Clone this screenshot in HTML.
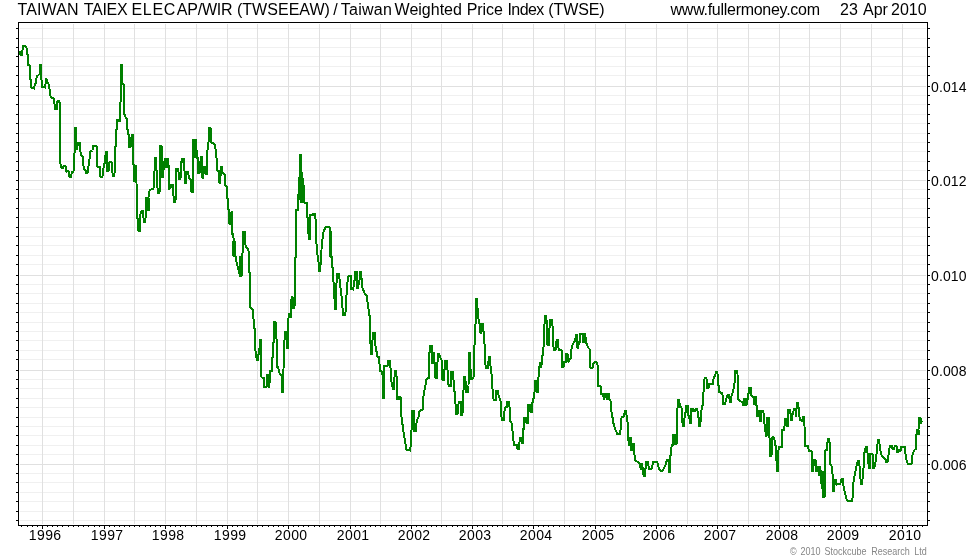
<!DOCTYPE html>
<html><head><meta charset="utf-8"><title>TWSEEAW / TWSE</title>
<style>
html,body{margin:0;padding:0;background:#fff;}
body{width:980px;height:560px;position:relative;overflow:hidden;font-family:"Liberation Sans",sans-serif;color:#000;}
.t{position:absolute;white-space:nowrap;line-height:1;}
.title{font-size:16px;top:2px;}
.yl{font-size:14px;left:931px;letter-spacing:0.1px;}
.xl{font-size:14px;top:528px;width:60px;text-align:center;letter-spacing:0.4px;}
.cp{font-size:9px;color:#868686;top:546.5px;transform:scaleY(1.12);transform-origin:0 0;}
svg{position:absolute;left:0;top:0;}
</style></head>
<body>
<svg width="980" height="560" viewBox="0 0 980 560" shape-rendering="crispEdges">
<g fill="#f0f0f0"><rect x="20" y="28" width="906" height="1"/><rect x="20" y="38" width="906" height="1"/><rect x="20" y="47" width="906" height="1"/><rect x="20" y="56" width="906" height="1"/><rect x="20" y="66" width="906" height="1"/><rect x="20" y="75" width="906" height="1"/><rect x="20" y="95" width="906" height="1"/><rect x="20" y="104" width="906" height="1"/><rect x="20" y="114" width="906" height="1"/><rect x="20" y="123" width="906" height="1"/><rect x="20" y="133" width="906" height="1"/><rect x="20" y="142" width="906" height="1"/><rect x="20" y="151" width="906" height="1"/><rect x="20" y="161" width="906" height="1"/><rect x="20" y="170" width="906" height="1"/><rect x="20" y="189" width="906" height="1"/><rect x="20" y="198" width="906" height="1"/><rect x="20" y="208" width="906" height="1"/><rect x="20" y="217" width="906" height="1"/><rect x="20" y="227" width="906" height="1"/><rect x="20" y="236" width="906" height="1"/><rect x="20" y="245" width="906" height="1"/><rect x="20" y="255" width="906" height="1"/><rect x="20" y="264" width="906" height="1"/><rect x="20" y="284" width="906" height="1"/><rect x="20" y="293" width="906" height="1"/><rect x="20" y="303" width="906" height="1"/><rect x="20" y="312" width="906" height="1"/><rect x="20" y="322" width="906" height="1"/><rect x="20" y="331" width="906" height="1"/><rect x="20" y="340" width="906" height="1"/><rect x="20" y="350" width="906" height="1"/><rect x="20" y="359" width="906" height="1"/><rect x="20" y="379" width="906" height="1"/><rect x="20" y="388" width="906" height="1"/><rect x="20" y="398" width="906" height="1"/><rect x="20" y="407" width="906" height="1"/><rect x="20" y="417" width="906" height="1"/><rect x="20" y="426" width="906" height="1"/><rect x="20" y="435" width="906" height="1"/><rect x="20" y="445" width="906" height="1"/><rect x="20" y="454" width="906" height="1"/><rect x="20" y="473" width="906" height="1"/><rect x="20" y="482" width="906" height="1"/><rect x="20" y="492" width="906" height="1"/><rect x="20" y="501" width="906" height="1"/><rect x="20" y="511" width="906" height="1"/><rect x="20" y="520" width="906" height="1"/></g>
<g fill="#e0e0e0"><rect x="20" y="86" width="906" height="1"/><rect x="20" y="180" width="906" height="1"/><rect x="20" y="275" width="906" height="1"/><rect x="20" y="370" width="906" height="1"/><rect x="20" y="464" width="906" height="1"/><rect x="42" y="24" width="1" height="500"/><rect x="73" y="24" width="1" height="500"/><rect x="104" y="24" width="1" height="500"/><rect x="134" y="24" width="1" height="500"/><rect x="165" y="24" width="1" height="500"/><rect x="196" y="24" width="1" height="500"/><rect x="227" y="24" width="1" height="500"/><rect x="257" y="24" width="1" height="500"/><rect x="288" y="24" width="1" height="500"/><rect x="319" y="24" width="1" height="500"/><rect x="350" y="24" width="1" height="500"/><rect x="380" y="24" width="1" height="500"/><rect x="411" y="24" width="1" height="500"/><rect x="441" y="24" width="1" height="500"/><rect x="472" y="24" width="1" height="500"/><rect x="502" y="24" width="1" height="500"/><rect x="533" y="24" width="1" height="500"/><rect x="564" y="24" width="1" height="500"/><rect x="595" y="24" width="1" height="500"/><rect x="625" y="24" width="1" height="500"/><rect x="656" y="24" width="1" height="500"/><rect x="687" y="24" width="1" height="500"/><rect x="717" y="24" width="1" height="500"/><rect x="748" y="24" width="1" height="500"/><rect x="779" y="24" width="1" height="500"/><rect x="809" y="24" width="1" height="500"/><rect x="840" y="24" width="1" height="500"/><rect x="871" y="24" width="1" height="500"/><rect x="902" y="24" width="1" height="500"/></g>
<g fill="#000"><rect x="18" y="22" width="910" height="1"/><rect x="18" y="525" width="910" height="1"/><rect x="18" y="22" width="1" height="504"/><rect x="927" y="22" width="1" height="504"/>
<rect x="16" y="28" width="2" height="1"/><rect x="928" y="28" width="2" height="1"/><rect x="16" y="38" width="2" height="1"/><rect x="928" y="38" width="2" height="1"/><rect x="16" y="47" width="2" height="1"/><rect x="928" y="47" width="2" height="1"/><rect x="16" y="56" width="2" height="1"/><rect x="928" y="56" width="2" height="1"/><rect x="16" y="66" width="2" height="1"/><rect x="928" y="66" width="2" height="1"/><rect x="16" y="75" width="2" height="1"/><rect x="928" y="75" width="2" height="1"/><rect x="16" y="86" width="2" height="1"/><rect x="928" y="86" width="2" height="1"/><rect x="16" y="95" width="2" height="1"/><rect x="928" y="95" width="2" height="1"/><rect x="16" y="104" width="2" height="1"/><rect x="928" y="104" width="2" height="1"/><rect x="16" y="114" width="2" height="1"/><rect x="928" y="114" width="2" height="1"/><rect x="16" y="123" width="2" height="1"/><rect x="928" y="123" width="2" height="1"/><rect x="16" y="133" width="2" height="1"/><rect x="928" y="133" width="2" height="1"/><rect x="16" y="142" width="2" height="1"/><rect x="928" y="142" width="2" height="1"/><rect x="16" y="151" width="2" height="1"/><rect x="928" y="151" width="2" height="1"/><rect x="16" y="161" width="2" height="1"/><rect x="928" y="161" width="2" height="1"/><rect x="16" y="170" width="2" height="1"/><rect x="928" y="170" width="2" height="1"/><rect x="16" y="180" width="2" height="1"/><rect x="928" y="180" width="2" height="1"/><rect x="16" y="189" width="2" height="1"/><rect x="928" y="189" width="2" height="1"/><rect x="16" y="198" width="2" height="1"/><rect x="928" y="198" width="2" height="1"/><rect x="16" y="208" width="2" height="1"/><rect x="928" y="208" width="2" height="1"/><rect x="16" y="217" width="2" height="1"/><rect x="928" y="217" width="2" height="1"/><rect x="16" y="227" width="2" height="1"/><rect x="928" y="227" width="2" height="1"/><rect x="16" y="236" width="2" height="1"/><rect x="928" y="236" width="2" height="1"/><rect x="16" y="245" width="2" height="1"/><rect x="928" y="245" width="2" height="1"/><rect x="16" y="255" width="2" height="1"/><rect x="928" y="255" width="2" height="1"/><rect x="16" y="264" width="2" height="1"/><rect x="928" y="264" width="2" height="1"/><rect x="16" y="275" width="2" height="1"/><rect x="928" y="275" width="2" height="1"/><rect x="16" y="284" width="2" height="1"/><rect x="928" y="284" width="2" height="1"/><rect x="16" y="293" width="2" height="1"/><rect x="928" y="293" width="2" height="1"/><rect x="16" y="303" width="2" height="1"/><rect x="928" y="303" width="2" height="1"/><rect x="16" y="312" width="2" height="1"/><rect x="928" y="312" width="2" height="1"/><rect x="16" y="322" width="2" height="1"/><rect x="928" y="322" width="2" height="1"/><rect x="16" y="331" width="2" height="1"/><rect x="928" y="331" width="2" height="1"/><rect x="16" y="340" width="2" height="1"/><rect x="928" y="340" width="2" height="1"/><rect x="16" y="350" width="2" height="1"/><rect x="928" y="350" width="2" height="1"/><rect x="16" y="359" width="2" height="1"/><rect x="928" y="359" width="2" height="1"/><rect x="16" y="370" width="2" height="1"/><rect x="928" y="370" width="2" height="1"/><rect x="16" y="379" width="2" height="1"/><rect x="928" y="379" width="2" height="1"/><rect x="16" y="388" width="2" height="1"/><rect x="928" y="388" width="2" height="1"/><rect x="16" y="398" width="2" height="1"/><rect x="928" y="398" width="2" height="1"/><rect x="16" y="407" width="2" height="1"/><rect x="928" y="407" width="2" height="1"/><rect x="16" y="417" width="2" height="1"/><rect x="928" y="417" width="2" height="1"/><rect x="16" y="426" width="2" height="1"/><rect x="928" y="426" width="2" height="1"/><rect x="16" y="435" width="2" height="1"/><rect x="928" y="435" width="2" height="1"/><rect x="16" y="445" width="2" height="1"/><rect x="928" y="445" width="2" height="1"/><rect x="16" y="454" width="2" height="1"/><rect x="928" y="454" width="2" height="1"/><rect x="16" y="464" width="2" height="1"/><rect x="928" y="464" width="2" height="1"/><rect x="16" y="473" width="2" height="1"/><rect x="928" y="473" width="2" height="1"/><rect x="16" y="482" width="2" height="1"/><rect x="928" y="482" width="2" height="1"/><rect x="16" y="492" width="2" height="1"/><rect x="928" y="492" width="2" height="1"/><rect x="16" y="501" width="2" height="1"/><rect x="928" y="501" width="2" height="1"/><rect x="16" y="511" width="2" height="1"/><rect x="928" y="511" width="2" height="1"/><rect x="16" y="520" width="2" height="1"/><rect x="928" y="520" width="2" height="1"/>
<rect x="21" y="526" width="1" height="1"/><rect x="27" y="526" width="1" height="1"/><rect x="32" y="526" width="1" height="1"/><rect x="37" y="526" width="1" height="1"/><rect x="42" y="526" width="1" height="3"/><rect x="47" y="526" width="1" height="1"/><rect x="52" y="526" width="1" height="1"/><rect x="57" y="526" width="1" height="1"/><rect x="62" y="526" width="1" height="1"/><rect x="68" y="526" width="1" height="1"/><rect x="73" y="526" width="1" height="1"/><rect x="78" y="526" width="1" height="1"/><rect x="83" y="526" width="1" height="1"/><rect x="88" y="526" width="1" height="1"/><rect x="94" y="526" width="1" height="1"/><rect x="99" y="526" width="1" height="1"/><rect x="104" y="526" width="1" height="3"/><rect x="109" y="526" width="1" height="1"/><rect x="114" y="526" width="1" height="1"/><rect x="119" y="526" width="1" height="1"/><rect x="124" y="526" width="1" height="1"/><rect x="129" y="526" width="1" height="1"/><rect x="134" y="526" width="1" height="1"/><rect x="139" y="526" width="1" height="1"/><rect x="145" y="526" width="1" height="1"/><rect x="150" y="526" width="1" height="1"/><rect x="155" y="526" width="1" height="1"/><rect x="160" y="526" width="1" height="1"/><rect x="165" y="526" width="1" height="3"/><rect x="170" y="526" width="1" height="1"/><rect x="175" y="526" width="1" height="1"/><rect x="180" y="526" width="1" height="1"/><rect x="185" y="526" width="1" height="1"/><rect x="191" y="526" width="1" height="1"/><rect x="196" y="526" width="1" height="1"/><rect x="201" y="526" width="1" height="1"/><rect x="206" y="526" width="1" height="1"/><rect x="211" y="526" width="1" height="1"/><rect x="217" y="526" width="1" height="1"/><rect x="222" y="526" width="1" height="1"/><rect x="227" y="526" width="1" height="3"/><rect x="232" y="526" width="1" height="1"/><rect x="237" y="526" width="1" height="1"/><rect x="242" y="526" width="1" height="1"/><rect x="247" y="526" width="1" height="1"/><rect x="252" y="526" width="1" height="1"/><rect x="257" y="526" width="1" height="1"/><rect x="262" y="526" width="1" height="1"/><rect x="268" y="526" width="1" height="1"/><rect x="273" y="526" width="1" height="1"/><rect x="278" y="526" width="1" height="1"/><rect x="283" y="526" width="1" height="1"/><rect x="288" y="526" width="1" height="3"/><rect x="293" y="526" width="1" height="1"/><rect x="298" y="526" width="1" height="1"/><rect x="303" y="526" width="1" height="1"/><rect x="308" y="526" width="1" height="1"/><rect x="314" y="526" width="1" height="1"/><rect x="319" y="526" width="1" height="1"/><rect x="324" y="526" width="1" height="1"/><rect x="329" y="526" width="1" height="1"/><rect x="334" y="526" width="1" height="1"/><rect x="340" y="526" width="1" height="1"/><rect x="345" y="526" width="1" height="1"/><rect x="350" y="526" width="1" height="3"/><rect x="355" y="526" width="1" height="1"/><rect x="360" y="526" width="1" height="1"/><rect x="365" y="526" width="1" height="1"/><rect x="370" y="526" width="1" height="1"/><rect x="375" y="526" width="1" height="1"/><rect x="380" y="526" width="1" height="1"/><rect x="385" y="526" width="1" height="1"/><rect x="391" y="526" width="1" height="1"/><rect x="396" y="526" width="1" height="1"/><rect x="401" y="526" width="1" height="1"/><rect x="406" y="526" width="1" height="1"/><rect x="411" y="526" width="1" height="3"/><rect x="416" y="526" width="1" height="1"/><rect x="421" y="526" width="1" height="1"/><rect x="426" y="526" width="1" height="1"/><rect x="431" y="526" width="1" height="1"/><rect x="436" y="526" width="1" height="1"/><rect x="441" y="526" width="1" height="1"/><rect x="446" y="526" width="1" height="1"/><rect x="452" y="526" width="1" height="1"/><rect x="457" y="526" width="1" height="1"/><rect x="462" y="526" width="1" height="1"/><rect x="467" y="526" width="1" height="1"/><rect x="472" y="526" width="1" height="3"/><rect x="477" y="526" width="1" height="1"/><rect x="482" y="526" width="1" height="1"/><rect x="487" y="526" width="1" height="1"/><rect x="492" y="526" width="1" height="1"/><rect x="497" y="526" width="1" height="1"/><rect x="502" y="526" width="1" height="1"/><rect x="507" y="526" width="1" height="1"/><rect x="513" y="526" width="1" height="1"/><rect x="518" y="526" width="1" height="1"/><rect x="523" y="526" width="1" height="1"/><rect x="528" y="526" width="1" height="1"/><rect x="533" y="526" width="1" height="3"/><rect x="538" y="526" width="1" height="1"/><rect x="543" y="526" width="1" height="1"/><rect x="548" y="526" width="1" height="1"/><rect x="553" y="526" width="1" height="1"/><rect x="559" y="526" width="1" height="1"/><rect x="564" y="526" width="1" height="1"/><rect x="569" y="526" width="1" height="1"/><rect x="574" y="526" width="1" height="1"/><rect x="579" y="526" width="1" height="1"/><rect x="585" y="526" width="1" height="1"/><rect x="590" y="526" width="1" height="1"/><rect x="595" y="526" width="1" height="3"/><rect x="600" y="526" width="1" height="1"/><rect x="605" y="526" width="1" height="1"/><rect x="610" y="526" width="1" height="1"/><rect x="615" y="526" width="1" height="1"/><rect x="620" y="526" width="1" height="1"/><rect x="625" y="526" width="1" height="1"/><rect x="630" y="526" width="1" height="1"/><rect x="636" y="526" width="1" height="1"/><rect x="641" y="526" width="1" height="1"/><rect x="646" y="526" width="1" height="1"/><rect x="651" y="526" width="1" height="1"/><rect x="656" y="526" width="1" height="3"/><rect x="661" y="526" width="1" height="1"/><rect x="666" y="526" width="1" height="1"/><rect x="671" y="526" width="1" height="1"/><rect x="676" y="526" width="1" height="1"/><rect x="681" y="526" width="1" height="1"/><rect x="686" y="526" width="1" height="1"/><rect x="691" y="526" width="1" height="1"/><rect x="697" y="526" width="1" height="1"/><rect x="702" y="526" width="1" height="1"/><rect x="707" y="526" width="1" height="1"/><rect x="712" y="526" width="1" height="1"/><rect x="717" y="526" width="1" height="3"/><rect x="722" y="526" width="1" height="1"/><rect x="727" y="526" width="1" height="1"/><rect x="732" y="526" width="1" height="1"/><rect x="737" y="526" width="1" height="1"/><rect x="743" y="526" width="1" height="1"/><rect x="748" y="526" width="1" height="1"/><rect x="753" y="526" width="1" height="1"/><rect x="758" y="526" width="1" height="1"/><rect x="763" y="526" width="1" height="1"/><rect x="769" y="526" width="1" height="1"/><rect x="774" y="526" width="1" height="1"/><rect x="779" y="526" width="1" height="3"/><rect x="784" y="526" width="1" height="1"/><rect x="789" y="526" width="1" height="1"/><rect x="794" y="526" width="1" height="1"/><rect x="799" y="526" width="1" height="1"/><rect x="804" y="526" width="1" height="1"/><rect x="809" y="526" width="1" height="1"/><rect x="814" y="526" width="1" height="1"/><rect x="820" y="526" width="1" height="1"/><rect x="825" y="526" width="1" height="1"/><rect x="830" y="526" width="1" height="1"/><rect x="835" y="526" width="1" height="1"/><rect x="840" y="526" width="1" height="3"/><rect x="845" y="526" width="1" height="1"/><rect x="850" y="526" width="1" height="1"/><rect x="855" y="526" width="1" height="1"/><rect x="860" y="526" width="1" height="1"/><rect x="866" y="526" width="1" height="1"/><rect x="871" y="526" width="1" height="1"/><rect x="876" y="526" width="1" height="1"/><rect x="881" y="526" width="1" height="1"/><rect x="886" y="526" width="1" height="1"/><rect x="892" y="526" width="1" height="1"/><rect x="897" y="526" width="1" height="1"/><rect x="902" y="526" width="1" height="3"/><rect x="907" y="526" width="1" height="1"/><rect x="912" y="526" width="1" height="1"/><rect x="917" y="526" width="1" height="1"/><rect x="922" y="526" width="1" height="1"/></g>
<g fill="#008000"><rect x="132.8" y="164.5" width="4" height="17.5"/><rect x="146" y="197.5" width="3.5" height="13"/><rect x="165.4" y="158.5" width="3.6" height="9.5"/><rect x="162.9" y="162" width="2.5" height="8"/><rect x="192.6" y="139.5" width="4.4" height="18.5"/><rect x="195.7" y="149.5" width="2.6" height="9"/><rect x="232.1" y="241.4" width="3.6" height="15"/><rect x="239.3" y="256" width="4" height="20"/><rect x="328.6" y="231" width="3.5" height="25.5"/><rect x="298.6" y="178" width="4.9" height="22"/><rect x="300" y="188" width="4.6" height="14.5"/><rect x="672.6" y="434.5" width="4.5" height="10"/><rect x="752.6" y="396" width="4.3" height="9"/><rect x="818" y="467" width="3" height="9"/><rect x="820" y="471" width="3.5" height="13"/><rect x="822" y="480" width="3" height="17"/><rect x="916.4" y="429.5" width="3.4" height="5"/></g>
<polyline fill="none" stroke="#008000" stroke-width="2" stroke-linejoin="miter" stroke-miterlimit="1.5" points="19,51.5 20,51.5 20.5,55 22,55 22.5,50 23,46 25.5,46 26.5,47.5 27,54.5 28.3,55 28.5,65 29.6,65.5 29.8,79 31,80 31.5,88 34,88.5 35,84 36,83.5 36.7,76.5 38.5,75 39.5,74 40.5,64.5 41,64.5 41.5,80 42,87 45,87.5 45.8,82 46.3,78.5 47.5,82 48.5,84 49.3,87 50,95 51.5,97.5 53.5,98.5 54.5,104 55,109 57,109 57.5,101 59,101 60,104 60.3,163 61,167 62.5,168.5 63.5,166 65.5,166 66.2,172 67.5,171 68.5,171 69.5,176.5 71,176.5 72,172 73.5,172 74,158.5 74.8,150 75.3,127.5 76,127.5 76.5,150 77.5,146 78,142.5 80,142.5 80.7,155 83,157 83.7,169 85.5,170 86,173 87.5,173 88,168 89.3,162 90,151.5 92.5,150.5 93,146 94,145.5 96.5,145.5 97.2,166 98,167 100,167 100.5,176.5 102.5,176.5 103,169.5 104.3,165 105.3,158 105.8,152 106.8,152 107.3,171 108.5,171 109,163 110,162 111.5,162 112.3,170 112.8,176 114.3,176 114.7,170 115,146.5 115.8,146 116.2,129.5 116.8,129 117.2,119.5 118.5,119.5 119,121 120.2,121 120.6,97.5 121,64.5 122,64.5 122.5,83.5 123.5,84 124,104.5 124.5,114.5 126,118 127,118.5 127.3,129.5 128,130 128.5,135 129.2,135.5 129.5,147 130.5,147 131,140 131.8,135 133,135 133.3,164.5 134,165 134.5,181 136.5,182.5 137,218.5 138,219 138.5,231 140,231 140.5,214 141.5,211 143,211 143.8,222 145.3,222 146,210 146.5,197.5 148.5,197.5 149,192.5 150,190 153.5,188.5 154.2,182 154.9,158 155.9,158 157,180 157.8,193 159.5,193 160,178 160.3,145.5 161.5,145.5 162,168 162.5,178 163,162 164.5,162 165.2,158.5 168,158.5 168.5,164 169,189.5 170.5,188 171,185 173,185 173.8,201.5 175.5,201.5 176,175 176.5,168.5 178,168.5 178.5,172 179.5,179.5 180.5,179 181,161.5 182,161.5 182.5,158.5 184,158.5 184.5,171 185,182.5 185.8,182.5 186.3,171.5 188,171.5 189,178 190.5,179 191.5,191.5 192.8,191.5 193.2,140 194,139.5 196,139.5 196.5,149.5 197,158 197.8,158 198.2,173 199.5,173 200.2,166 200.8,156.5 202,156.5 202.5,177.5 203.3,177.5 204,166.5 205.5,166.5 206,173.5 207,173.5 207.5,150 208.3,149 208.8,132.5 209.3,127.5 210.5,127.5 211,142.5 213,143 214.5,144.5 215.4,146 215.8,157 216.5,158 217,170.5 219,171 219.5,182.5 220.3,182.5 220.8,166.5 222,166.5 222.5,173 225,174.5 225.5,185.5 226.5,186 227,198.5 227.8,199 228.3,209.5 229,210 229.5,223.5 231,223.5 231.5,212 232.2,212 232.5,234 233.3,234.5 233.7,241 234,256 235.5,256.5 236.5,262 238,268 239,272 240,276 241.5,276 242,256 243,250 243.5,231.5 245,231.5 245.6,247 247.5,248 249,252 249.4,272 250,272.5 250.3,307.5 253,309.5 254,328.5 255,329 255.3,350 256,354 256.8,360 257.8,360 258.5,354.5 259.3,354 259.8,339.5 260.8,339.5 261.2,376.5 262,377.5 263.7,378 264.2,387 266.5,387 267,374.5 268.3,374.5 268.8,387 269.3,387 269.8,377 270.5,370.5 271.8,370.5 272.2,357.5 273,357 273.3,342.5 274,342 274.3,321.5 275.5,321.5 276,332 276.8,342.5 277.2,367 278.3,367.5 278.8,371.5 280,374.5 281.5,375 282,391.5 283.2,391.5 283.5,369.5 284,344 284.8,338 285.5,331.5 286.5,331.5 287,347.5 288,347.5 288.5,318.5 289,313.5 290.5,313.5 291,318 291.3,300 291.8,297 292.5,296.5 293,307.5 294.5,307.5 295,258 296,257.5 296.3,210 297.8,210 298.2,194.5 298.8,194 299.2,177.5 299.8,177 300.2,154.5 301.2,154.5 301.6,177.5 302.5,178 303,202.5 304,185 304.5,202.5 307,202.5 307.4,217.5 308.2,218 308.6,238.5 310,238.5 310.5,214.5 313,214.5 313.5,213.5 315.3,213.5 315.8,225.5 316.3,241 317.3,253.5 318.5,262 319,270.5 320.2,270.5 320.8,259 322,243 323.5,232 325.5,227.5 327,227 329.5,227 330,231.5 330.5,256.5 331.5,256.5 332.2,267.5 333,268 333.4,282 334.2,283 334.7,308.5 336,308.5 336.5,283 337,274 339,274 340,283.5 341.5,295.5 342.5,308 343,315 345.3,315 346,305 346.7,291.5 348,277 349,275.5 350.8,275.5 351.2,289 352.8,289.5 353.5,287 354,281 354.8,280.5 355.3,271.5 356.9,271.5 357.4,287.5 358,287.5 360.1,277 360.1,271.5 361.3,271.5 361.8,286.5 363.5,290.5 364.5,293 366,295.5 367.2,296 367.6,303.5 368.3,304 368.8,315.5 370,316 370.4,342 371,354 372,354 372.5,340 373.2,332.5 375,332.5 375.7,350.5 376.5,351 377.5,357 378.8,357 379.3,361.5 380.3,371 381.5,371.5 382.5,374.5 383,398 384,398 384.5,365.5 387.5,366 388,360.5 390.3,360.5 390.8,378 391.8,383 393,389 394,389 394.8,370.5 396.3,370.5 396.8,383 397.2,399 399,399 399.5,396.5 400.5,397 401,412.5 402.3,423 403.7,433 405.2,442 406.6,450 410.3,450.5 410.8,441.5 411.8,425 412.5,410.5 414,410.5 414.5,431 416,431 416.7,420 418.5,417.5 419,412 420,410.5 422.5,410 423,402 423.8,393 425.5,385 426.5,379.5 427.5,378 428.8,378 429.2,353 430,352 430.4,345.5 431.7,345.5 432.2,362.5 433.5,362.5 434,352 434.6,364 435.5,378 436.8,378 437.9,353.5 438.9,353.5 440,357 441.8,360.5 442.5,379.5 444.2,379.5 444.8,360.5 447.3,360.5 447.8,383.5 449,385.5 451,385.5 451.5,371.5 453,371.5 453.5,380 454.3,386.5 454.7,396 455.5,404 456.3,414 457.5,414 458,405.5 459.3,401.5 460.8,401.5 461.3,415 462.3,415 462.8,410 464,376.5 465.2,376.5 466.2,391.5 468,391.5 468.5,385.5 469,352.5 470.2,352.5 470.7,379 472,379 473.6,377 474.2,348.5 475.2,338.5 476.1,298.5 476.9,298.5 477.4,306 478.3,318.5 479.5,323.5 480.5,332.5 481.5,332.5 482,323.5 483.2,323.5 483.7,336 484.6,344.5 485,361.5 486,368 488,368 488.8,356.5 490,356.5 490.5,366 491.6,374.5 492.3,385.5 493,396.5 493.8,400 496,400 496.5,390.5 498,390.5 498.6,396 500.5,400.5 501,411.5 501.8,420 504,420 504.4,411 505.5,407.5 507,407 507.5,401.5 509.3,401.5 509.7,411 510.3,421 511.5,422.5 512.3,428 512.7,434 513.6,441.5 514.4,445 517,445 517.5,448.5 519.2,448.5 519.7,437.5 521.5,437.5 522,442.5 523.3,442.5 523.7,417.5 526,417.5 526.5,422.5 527.8,422.5 528.3,405 530,405 530.5,412 532,412 532.6,401 534,397 534.6,391.5 535,381 536,381 536.5,391.5 538,391.5 538.6,375 539,370 540,362.5 541,367.5 542,362.5 542.3,357 543.3,350 544,339 544.8,315.5 546.3,315.5 546.8,325 547.5,345 549,345 549.6,325 550,319.5 552,319.5 552.6,327 553,340 553.7,350 555.5,350 556.2,345 556.6,339.5 558,339.5 558.6,349.5 560.5,350 562,350.5 562.3,367 563.5,367 564,361.5 565.7,361.5 566.3,353.5 567.5,353.5 568,362 569,361 570.8,358 571.3,350 572.6,345 574,342 575.3,341 575.8,334.5 577,334.5 577.5,348 578.3,348 578.8,341.5 580,341.5 580.5,333.5 582.5,333.5 583,342 584,342 584.5,333.5 585.3,333.5 585.8,341 587.1,345.5 588.6,348 589.5,349 589.9,365.5 590.5,367.5 592.5,367.5 593.2,364 594.5,362 596.5,362 597.2,364.5 598,366 598.3,385.5 600.5,385.5 601.2,394 603,394 604,399.5 605.5,393.5 607,399.5 608.5,393.5 609.5,399.5 610.4,399.5 610.8,405 611.5,412 612.6,418 613.6,424 615.6,430 617.3,434 620.3,434 620.8,424 621.7,417 624.2,416.5 624.7,410.5 626.2,410.5 626.7,417.5 627.5,422 628.2,437 628.8,444.5 630,444.5 630.5,437 631.2,449.5 632.5,449.5 633,443.5 633.8,443.5 634.5,455 635.6,461 637,461.5 639.5,463.5 641,469.5 642,463.5 642.8,469.5 643.6,476 645.2,476 645.8,462 648.2,462 648.7,468.5 651.5,468.5 652.2,466 653.2,462 657.4,462 658,466 659.3,469 660.2,470.5 662.8,470.5 663.7,468.5 665.4,465.5 666.4,461.5 667.4,459.5 668.5,459.5 669,472 670,472 670.6,452.5 672,444.5 673,444.5 673.5,434.5 676.5,434.5 676.8,444 677.2,418 677.8,399.5 679.3,399.5 679.8,407 681.5,407.5 682,417.5 682.8,426 684.2,426 684.7,413 685.8,412.5 686.2,405.5 687.8,405.5 688.3,415.5 689.3,416 689.8,423 691,423 691.3,408.5 692.8,408.5 693.4,411 695.2,411 695.7,408.5 697.4,408.5 697.8,417.5 698.6,418 699,426 700.3,426 700.8,417.5 701.3,411 702.3,405.5 703.3,405 703.7,381.5 704.9,377.5 705.9,377.5 706.8,379.5 707.3,388 708.5,388 709,383.5 713.2,383.5 713.7,377 715,376.5 715.9,371.5 716.9,371.5 717.9,375.5 718.3,382 718.9,392 722.3,393 722.8,398 723.3,404 725.3,404 725.8,400 726.9,397 727.6,394.5 729.2,394.5 729.7,401.5 730.8,401.5 731.3,397 732.5,393 733.6,389 734.3,388 734.8,377 735.3,370.5 737.3,370.5 737.8,380 738.2,399.5 740.5,401 742.5,402.5 743.3,405.5 744.5,398.5 745.5,405.5 746.5,398.5 747.3,405 747.8,393.5 748.8,393 749.2,387.5 751,387.5 751.5,396 752.5,396 754,398.5 755.5,402.5 756,405 757,405.5 757.5,416 758.5,416 759,410 759.8,420.5 761,420.5 761.4,410.5 763.4,410.5 763.8,420 764.6,424.5 765.2,430.5 766,435 766.5,437 767,417.5 769,417.5 769.5,437.5 770.2,455.5 771.5,455.5 772,437 774,437.5 774.6,440.5 775.2,445.5 776.2,446 776.7,470.5 778,470.5 778.6,446.5 781.6,446.5 782,430 784,430 784.5,426 785,418.5 786,418.5 786.5,425.5 788,425.5 788.5,409.5 790.3,409.5 790.8,420 792,420 792.5,413.5 793.3,413.5 793.8,408.5 795.5,408.5 796,416.5 797,402.5 798,402.5 799,412 799.8,420 802.3,421 802.8,416.5 804.3,416.5 804.7,435 805.4,446 808.2,446 808.7,451 811.5,451 812,460 812.4,470.5 813.3,470.5 813.8,460 815.5,460 816,471 817.2,471 817.7,467 820,467 820.5,470 821.3,482.5 822.3,482.5 822.8,497 824.5,497 825,482 825.4,450.5 826.6,450 827,445 828.4,438.5 829.4,438.5 830.3,464.5 831.3,465 832.3,469.5 832.8,480 833.2,491 834.2,491 834.8,479.5 836,479.5 836.5,484.5 839.5,484 840.5,483.5 841.6,478.5 842.6,478.5 843.7,487.5 845,493 846.4,499 847.8,501 852.2,501 852.8,495 853.6,480.5 854.7,475 855.7,470 856.7,465 857.9,460.5 858.9,460.5 859.7,468 860.2,473.5 860.8,483.5 862.3,483.5 862.9,472.5 863.9,465 864.6,451 865.9,446.5 866.9,446.5 868,457.5 868.8,467.5 870,467.5 870.5,453.5 872.5,453.5 873,467.5 874.5,467.5 875.2,463.5 876,459 876.8,451.5 878,439.5 879,439.5 880,448.5 880.8,452 881.8,456.5 883.5,457.5 885.5,459.5 886,462 887.5,462 888,457.5 889,452.5 889.7,446 890.5,445.5 892,445.5 892.5,448.5 894.2,448.5 894.7,445.5 896.5,445.5 897,452 898,452 899,449 900,452 901,449 901.4,446.5 905,446.5 905.4,453.5 906.2,458.5 907.4,463 908,464 911.5,464 912,456.5 913,453 914.5,450 915.6,449 916,437 916.5,434.5 917,429.5 918.5,429.5 919,418 920.5,418 921,424 921.8,421"/>
</svg>
<div id="txt" style="position:absolute;left:0;top:0;width:980px;height:560px;will-change:transform;">
<div class="t title" style="left:17.6px;letter-spacing:0.1px">TAIWAN</div>
<div class="t title" style="left:83.8px;letter-spacing:-0.3px">TAIEX</div>
<div class="t title" style="left:131.5px;letter-spacing:0.7px">ELEC</div>
<div class="t title" style="left:176.7px;letter-spacing:-0.2px">AP/WIR</div>
<div class="t title" style="left:236.9px;letter-spacing:0.04px">(TWSEEAW)</div>
<div class="t title" style="left:333.2px;letter-spacing:0px">/</div>
<div class="t title" style="left:340.8px;letter-spacing:0.25px">Taiwan</div>
<div class="t title" style="left:394.6px;letter-spacing:0px">Weighted</div>
<div class="t title" style="left:466.8px;letter-spacing:-0.1px">Price</div>
<div class="t title" style="left:507.4px;letter-spacing:-0.55px">Index</div>
<div class="t title" style="left:548.3px;letter-spacing:-0.1px">(TWSE)</div>
<div class="t title" style="left:670.6px;letter-spacing:-0.28px">www.fullermoney.com</div>
<div class="t title" style="left:840px">23</div>
<div class="t title" style="left:863px">Apr</div>
<div class="t title" style="left:891px">2010</div>
<div class="t yl" style="top:80px">0.014</div>
<div class="t yl" style="top:174px">0.012</div>
<div class="t yl" style="top:269px">0.010</div>
<div class="t yl" style="top:364px">0.008</div>
<div class="t yl" style="top:458px">0.006</div>
<div class="t xl" style="left:15.2px">1996</div>
<div class="t xl" style="left:77.2px">1997</div>
<div class="t xl" style="left:138.2px">1998</div>
<div class="t xl" style="left:200.2px">1999</div>
<div class="t xl" style="left:261.2px">2000</div>
<div class="t xl" style="left:323.2px">2001</div>
<div class="t xl" style="left:384.2px">2002</div>
<div class="t xl" style="left:445.2px">2003</div>
<div class="t xl" style="left:506.2px">2004</div>
<div class="t xl" style="left:568.2px">2005</div>
<div class="t xl" style="left:629.2px">2006</div>
<div class="t xl" style="left:690.2px">2007</div>
<div class="t xl" style="left:752.2px">2008</div>
<div class="t xl" style="left:813.2px">2009</div>
<div class="t xl" style="left:875.2px">2010</div>
<div class="t cp" style="left:790.1px">©</div>
<div class="t cp" style="left:800.4px">2010</div>
<div class="t cp" style="left:824.4px">Stockcube</div>
<div class="t cp" style="left:871.3px">Research</div>
<div class="t cp" style="left:914.2px">Ltd</div>
</div>
</body></html>
